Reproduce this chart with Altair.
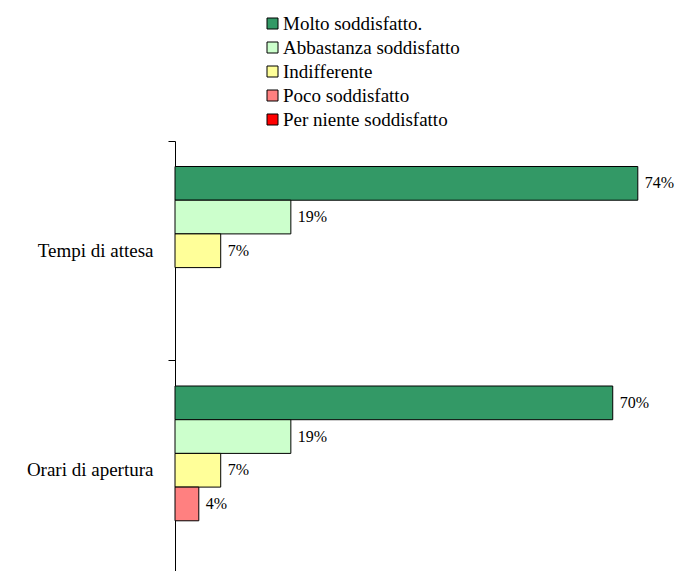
import altair as alt
import pandas as pd

categories = ["Tempi di attesa", "Orari di apertura"]
series = ["Molto soddisfatto.", "Abbastanza soddisfatto", "Indifferente",
          "Poco soddisfatto", "Per niente soddisfatto"]
colors = ["#339966", "#CCFFCC", "#FFFF99", "#FF8080", "#FF0000"]

tempi_values = [73.9, 18.5, 7.3]
tempi_labels = ["74%", "19%", "7%"]
orari_values = [69.9, 18.5, 7.3, 3.8]
orari_labels = ["70%", "19%", "7%", "4%"]

rows = []
for cat, vals, labs in ((categories[0], tempi_values, tempi_labels),
                        (categories[1], orari_values, orari_labels)):
    for s, v, l in zip(series, vals, labs):
        rows.append({"cat": cat, "series": s, "value": v, "label": l})
df = pd.DataFrame(rows)

FONT = "Liberation Serif, Times New Roman, serif"

y_enc = alt.Y(
    "cat:N",
    sort=categories,
    scale=alt.Scale(domain=categories, range=[0, 439], paddingInner=0, paddingOuter=0),
    axis=alt.Axis(title=None, bandPosition=0, tickSize=7, tickColor="black",
                  domainColor="black", labelFont=FONT, labelFontSize=19,
                  labelColor="black", labelPadding=15, grid=False, labelLimit=300),
)
yoff_enc = alt.YOffset("series:N", sort=series,
                       scale=alt.Scale(domain=series, paddingInner=0, paddingOuter=0.757))
x_enc = alt.X("value:Q", scale=alt.Scale(domain=[0, 80], nice=False), axis=None)

bars = alt.Chart(df).mark_bar(stroke="black", strokeWidth=1).encode(
    x=x_enc,
    y=y_enc,
    yOffset=yoff_enc,
    color=alt.Color(
        "series:N",
        sort=series,
        scale=alt.Scale(domain=series, range=colors),
        legend=alt.Legend(
            title=None, orient="none", legendX=88, legendY=-127,
            symbolType="square", symbolSize=121, symbolStrokeColor="black",
            symbolStrokeWidth=1, labelFont=FONT, labelFontSize=19,
            labelColor="black", rowPadding=4, labelOffset=1, padding=0,
            symbolOffset=0, labelLimit=400,
        ),
    ),
)

texts = alt.Chart(df).mark_text(
    align="left", baseline="middle", dx=7, font=FONT, fontSize=16, color="black"
).encode(
    x=x_enc,
    y=y_enc,
    yOffset=yoff_enc,
    text="label:N",
)

chart = (bars + texts).properties(
    width=501,
    height=430,
    autosize=alt.AutoSizeParams(type="none"),
    padding={"left": 175, "top": 141, "right": 7, "bottom": 0},
).configure_view(stroke=None)

chart.save("out.html", embed_options={"renderer": "svg", "actions": False})
